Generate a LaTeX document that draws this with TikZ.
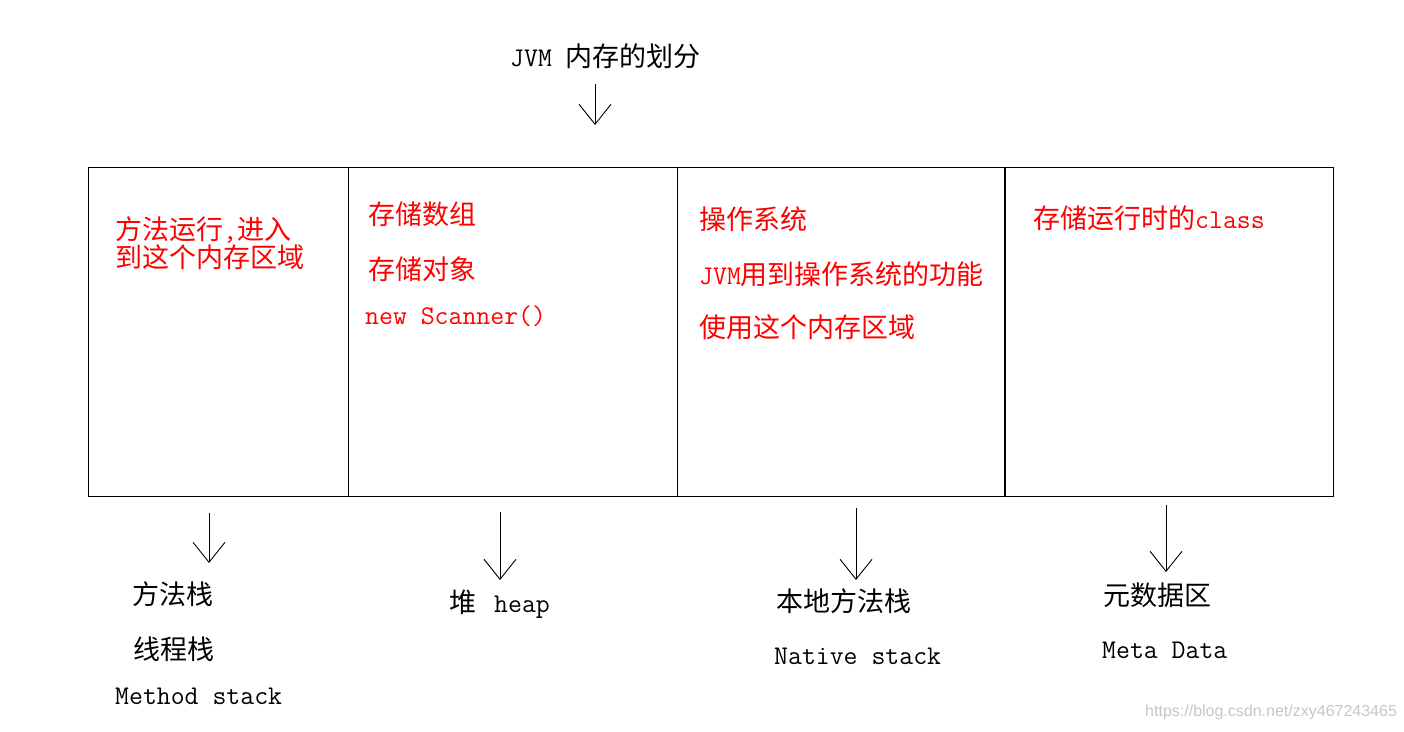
\documentclass[tikz,border=0pt]{standalone}
\usepackage{fontspec}
\newfontfamily\cjk{Noto Sans CJK SC}
\newfontfamily\wmfont{Liberation Sans}
\usetikzlibrary{arrows.meta}
\newcommand{\zh}[1]{{\cjk #1}}
\begin{document}
\begin{tikzpicture}[x=1pt,y=-1pt,
  txt/.style={anchor=west,inner sep=0pt,font=\fontsize{27}{27}\selectfont\ttfamily},
  rtxt/.style={txt,text=red},
  arr/.style={line width=0.9pt,-{Straight Barb[length=20pt,width=32pt,line width=0.9pt]}},
  region/.style={draw,line width=1.1pt,anchor=north west,inner sep=0pt,minimum height=329pt}]
\useasboundingbox[fill=white] (0,0) rectangle (1404,731);

% title
\node[txt] (title) at (510,56) {JVM \zh{内存的划分}};
\coordinate (t0) at (595,84);
\coordinate (t1) at (595,125);
\draw[arr] (t0) -- (t1);

% memory regions
\node[region,minimum width=260pt] (r1) at (88,167) {};
\node[region,minimum width=329pt] (r2) at (348,167) {};
\node[region,minimum width=328pt] (r3) at (677,167) {};
\node[region,minimum width=328pt] (r4) at (1005,167) {};
\draw[line width=2pt] (r4.north west) -- (r4.south west);

% red descriptions
\node[rtxt,align=left,font=\fontsize{27}{26}\selectfont\ttfamily] (d1) at (115,243) {\zh{方法运行},\zh{进入}\\\zh{到这个内存区域}};
\node[rtxt] (d2a) at (368,214) {\zh{存储数组}};
\node[rtxt] (d2b) at (368,269) {\zh{存储对象}};
\node[rtxt] (d2c) at (365,316) {new Scanner()};
\node[rtxt] (d3a) at (699,219) {\zh{操作系统}};
\node[rtxt] (d3b) at (699,274) {JVM\zh{用到操作系统的功能}};
\node[rtxt] (d3c) at (699,327) {\zh{使用这个内存区域}};
\node[rtxt] (d4a) at (1033,218) {\zh{存储运行时的}class};

% arrows down
\coordinate (a1s) at (209,513); \coordinate (a1e) at (209,563);
\coordinate (a2s) at (500,512); \coordinate (a2e) at (500,580);
\coordinate (a3s) at (856,508); \coordinate (a3e) at (856,580);
\coordinate (a4s) at (1166,505); \coordinate (a4e) at (1166,572);
\draw[arr] (a1s) -- (a1e);
\draw[arr] (a2s) -- (a2e);
\draw[arr] (a3s) -- (a3e);
\draw[arr] (a4s) -- (a4e);

% bottom labels
\node[txt] (l1a) at (132,594) {\zh{方法栈}};
\node[txt] (l1b) at (133,649) {\zh{线程栈}};
\node[txt] (l1c) at (115,696) {Method stack};
\node[txt] (l2) at (449,604) {\zh{堆}\hspace{18pt}heap};
\node[txt] (l3a) at (776,601) {\zh{本地方法栈}};
\node[txt] (l3b) at (774,656) {Native stack};
\node[txt] (l4a) at (1103,595) {\zh{元数据区}};
\node[txt] (l4b) at (1102,650) {Meta Data};

% watermark
\node[anchor=west,inner sep=0pt,text=black!22,font=\fontsize{16}{16}\selectfont\wmfont] (wm) at (1145,712) {https://blog.csdn.net/zxy467243465};
\end{tikzpicture}
\end{document}
